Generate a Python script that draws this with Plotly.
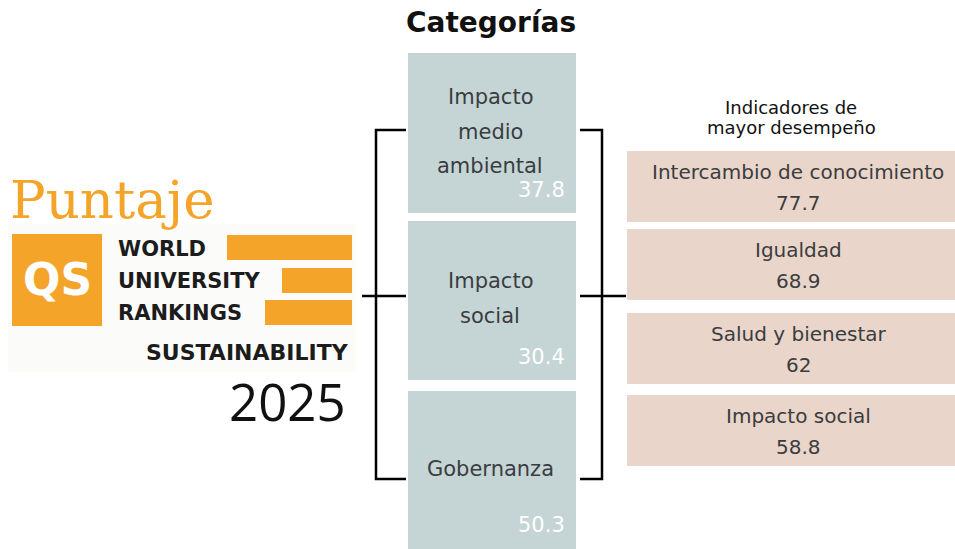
import plotly.graph_objects as go

# ---- data ----
categories = [["Impacto", "medio", "ambiental"], ["Impacto", "social"], ["Gobernanza"]]
category_scores = [37.8, 30.4, 50.3]
indicators = ["Intercambio de conocimiento", "Igualdad", "Salud y bienestar", "Impacto social"]
indicator_scores = [77.7, 68.9, 62, 58.8]
logo_lines = ["WORLD", "UNIVERSITY", "RANKINGS"]

W, H = 955, 549
FONT = "DejaVu Sans"
TXT = "#3a3d40"

fig = go.Figure()

# category boxes (bars in a pixel-like coordinate frame)
cat_tops = [53, 221, 391]
cat_bottoms = [213, 380, 549]
fig.add_trace(go.Bar(
    x=[492] * len(categories), y=[b - t for t, b in zip(cat_tops, cat_bottoms)], base=cat_tops,
    width=168, marker=dict(color="#c5d5d5", line=dict(width=0)), hoverinfo="skip", showlegend=False))

# indicator boxes
ind_tops = [151, 229, 313, 395]
ind_h = 71
fig.add_trace(go.Bar(
    x=[791] * len(indicators), y=[ind_h] * len(indicators), base=ind_tops,
    width=328, marker=dict(color="#e9d5c9", line=dict(width=0)), hoverinfo="skip", showlegend=False))

ann = []
# titles
ann.append(dict(x=491, y=22, text="<b>Categorías</b>", font=dict(family=FONT, size=28, color="#111111")))
ann.append(dict(x=791, y=107, text="Indicadores de", font=dict(family=FONT, size=18, color="#111111")))
ann.append(dict(x=791, y=127, text="mayor desempeño", font=dict(family=FONT, size=18, color="#111111")))

cat_first_line_y = [97, 281, 469]
value_y = [190, 357, 525]
for i, (lines, s) in enumerate(zip(categories, category_scores)):
    for k, line in enumerate(lines):
        ann.append(dict(x=490, y=cat_first_line_y[i] + 34.5 * k, text=line,
                        font=dict(family=FONT, size=21, color=TXT)))
    ann.append(dict(x=567, y=value_y[i], text=f"{s}", xanchor="right",
                    font=dict(family=FONT, size=21, color="white")))

for i, (n, s) in enumerate(zip(indicators, indicator_scores)):
    ann.append(dict(x=798, y=ind_tops[i] + 21, text=n, font=dict(family=FONT, size=20, color=TXT)))
    ann.append(dict(x=798, y=ind_tops[i] + 52, text=f"{s:g}", font=dict(family=FONT, size=20, color=TXT)))

# left side logo block
ann.append(dict(x=8, y=199, text="Puntaje", xanchor="left",
                font=dict(family="DejaVu Serif", size=53, color="#f5a42a")))
ann.append(dict(x=57, y=279, text="<b>QS</b>", font=dict(family=FONT, size=44, color="white")))
for j, t in enumerate(logo_lines):
    ann.append(dict(x=116, y=249 + j * 32, text=f"<b>{t}</b>", xanchor="left",
                    font=dict(family=FONT, size=21, color="#1c1c1c")))
ann.append(dict(x=351, y=352, text="<b>SUSTAINABILITY</b>", xanchor="right",
                font=dict(family=FONT, size=22, color="#1c1c1c")))
ann.append(dict(x=348, y=401, text="2025", xanchor="right",
                font=dict(family="Open Sans", size=51, color="#111111")))

for a in ann:
    a.setdefault("xref", "x"); a.setdefault("yref", "y"); a.setdefault("showarrow", False)
    a.setdefault("xanchor", "center"); a.setdefault("yanchor", "middle")

shapes = []
# logo pieces
shapes.append(dict(type="rect", x0=8, x1=356, y0=224, y1=372, fillcolor="#fbfbfa", line=dict(width=0), layer="below"))
shapes.append(dict(type="rect", x0=12, x1=102, y0=234, y1=326, fillcolor="#f5a42a", line=dict(width=0)))
for x0, y0 in [(227, 235), (282, 268), (265, 300)]:
    shapes.append(dict(type="rect", x0=x0, x1=352, y0=y0, y1=y0 + 25, fillcolor="#f5a42a", line=dict(width=0)))

# brackets
blk = dict(color="black", width=2.5)
for xv, xin, xout in [(376, 406, 362), (602, 580, 626)]:
    shapes.append(dict(type="path", path=f"M {xin} 130 L {xv} 130 L {xv} 479 L {xin} 479", line=blk))
    shapes.append(dict(type="line", x0=xout, x1=xin, y0=296, y1=296, line=blk))
for s in shapes:
    s.setdefault("xref", "x"); s.setdefault("yref", "y")

fig.update_layout(
    width=W, height=H, margin=dict(l=0, r=0, t=0, b=0),
    paper_bgcolor="white", plot_bgcolor="white", barmode="overlay", bargap=0,
    xaxis=dict(range=[0, W], visible=False, fixedrange=True),
    yaxis=dict(range=[H, 0], visible=False, fixedrange=True),
    annotations=ann, shapes=shapes, showlegend=False,
)
fig.write_html("out.html", config={"displayModeBar": False},
               post_script="document.body.style.margin='0';")
